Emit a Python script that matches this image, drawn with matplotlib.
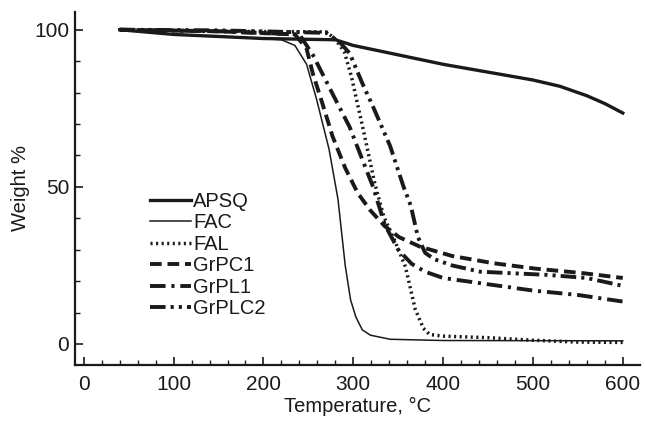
import matplotlib
matplotlib.use("Agg")
import matplotlib.pyplot as plt
from matplotlib.ticker import MultipleLocator

plt.rcParams['font.family'] = ['Liberation Sans', 'DejaVu Sans']

# --- data ---
apsq_T = [40, 100, 200, 280, 300, 350, 400, 450, 500, 530, 560, 580, 600]
apsq_W = [100, 98.5, 97.2, 96.8, 95, 92, 89, 86.5, 84, 82, 79, 76.5, 73.5]

fac_T = [40, 100, 200, 220, 235, 248, 259, 273, 283, 291, 297, 303, 310, 319, 341, 400, 600]
fac_W = [100, 98.5, 97.2, 96.8, 95, 89, 78, 62, 46, 25, 14, 8.5, 4.5, 2.8, 1.5, 1.1, 1.0]

fal_T = [40, 150, 270, 280, 290, 298, 305, 312, 318, 324, 334, 346, 358, 369, 378, 385, 400, 450, 500, 550, 600]
fal_W = [100, 99.5, 99.3, 97, 93, 85, 76, 67, 59, 51, 40.5, 33, 24.6, 11, 5, 3, 2.5, 2, 1.2, 0.6, 0.5]

grpc1_T = [40, 150, 235, 248, 255, 264, 277, 291, 305, 319, 335, 351, 374, 410, 456, 502, 557, 600]
grpc1_W = [100, 99.5, 98.5, 94, 86, 78, 66, 56, 48, 42.5, 37.5, 34, 31, 28, 25.7, 24, 22.5, 21]

grpl1_T = [40, 150, 240, 255, 278, 296, 311, 322, 335, 350, 365, 380, 400, 450, 500, 550, 600]
grpl1_W = [100, 99.5, 98.5, 92, 79, 69, 58, 50, 38, 30, 25.5, 23, 21, 19, 17, 15.6, 13.5]

grplc2_T = [40, 150, 270, 285, 296, 310, 322, 341, 356, 364, 372, 380, 390, 410, 441, 515, 560, 600]
grplc2_W = [100, 99.8, 99, 96, 92.5, 83, 75.5, 63, 50, 44, 34, 29, 27, 25, 23, 22, 21, 18.5]

x_ticks = [0, 100, 200, 300, 400, 500, 600]
y_ticks = [0, 50, 100]

fig = plt.figure(figsize=(6.45, 4.22), dpi=100)
ax = fig.add_axes([0.116, 0.135, 0.876, 0.837])

k = '#1a1a1a'
ax.plot(apsq_T, apsq_W, color=k, lw=2.4, label='APSQ')
ax.plot(fac_T, fac_W, color=k, lw=1.1, label='FAC')
ax.plot(fal_T, fal_W, color=k, lw=2.5, ls=(0, (0.6, 1.0)), label='FAL')
ax.plot(grpc1_T, grpc1_W, color=k, lw=2.8, ls=(0, (3.0, 1.5)), label='GrPC1')
ax.plot(grpl1_T, grpl1_W, color=k, lw=2.8, ls=(0, (4.0, 1.5, 0.8, 1.5)), label='GrPL1')
ax.plot(grplc2_T, grplc2_W, color=k, lw=2.8, ls=(0, (4.0, 1.3, 0.8, 1.3, 0.8, 1.3)), label='GrPLC2')

ax.set_xlim(-10, 619)
ax.set_ylim(-6.7, 105.7)
ax.set_xticks(x_ticks)
ax.set_yticks(y_ticks)
ax.xaxis.set_minor_locator(MultipleLocator(20))
ax.yaxis.set_minor_locator(MultipleLocator(10))
ax.tick_params(which='major', direction='in', length=5.5, width=1.2, labelsize=15, colors=k, pad=7)
ax.tick_params(which='minor', direction='in', length=3.5, width=1.0, colors=k)
ax.tick_params(axis='y', pad=4)
for s in ['top', 'right']:
    ax.spines[s].set_visible(False)
for s in ['left', 'bottom']:
    ax.spines[s].set_linewidth(1.6)
    ax.spines[s].set_color(k)

ax.set_xlabel('Temperature, °C', fontsize=14.5, color=k, labelpad=2)
ax.set_ylabel('Weight %', fontsize=14.5, color=k, labelpad=3)

leg = ax.legend(loc='upper left', bbox_to_anchor=(0.133, 0.49), frameon=False,
                fontsize=14.5, handlelength=2.05, handletextpad=0.1,
                labelspacing=0.12, borderaxespad=0, borderpad=0)
for t in leg.get_texts():
    t.set_color(k)

fig.savefig('out.png', dpi=100)
